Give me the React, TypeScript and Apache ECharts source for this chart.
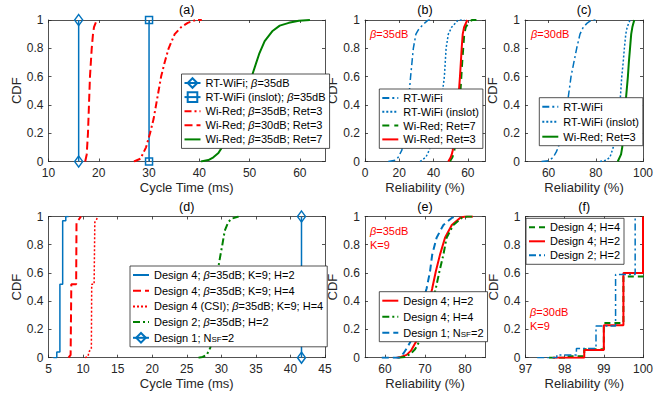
import React, { useEffect, useRef } from 'react';
import * as echarts from 'echarts';

const FONT = '"Liberation Sans", Arial, Helvetica, sans-serif';
const BLUE = '#0072BD';
const RED = '#FF0000';
const GREEN = '#008000';
const AX = '#262626';

// ---------- data ----------
// (a) cycle time CDFs
const aRtWifi = [[16, 0], [16, 1]];
const aRtWifiInslot = [[30, 0], [30, 1]];
const aWiRed35Ret3 = [[27, 0], [28.3, 0.02], [29.4, 0.1], [30.2, 0.2], [30.9, 0.3], [31.4, 0.4], [31.9, 0.5], [32.4, 0.6], [33.1, 0.7], [33.9, 0.8], [35.1, 0.9], [36.4, 0.95], [37.7, 0.98], [39.3, 1], [40.5, 1]];
const aWiRed30Ret3 = [[17.3, 0], [17.6, 0.05], [17.85, 0.2], [18.05, 0.4], [18.25, 0.6], [18.6, 0.8], [18.85, 0.9], [19.05, 0.95], [19.6, 1]];
const aWiRed35Ret7 = [[40.3, 0], [41.8, 0.01], [42.8, 0.03], [43.8, 0.06], [44.5, 0.1], [45.8, 0.2], [47, 0.3], [48.2, 0.4], [49.4, 0.5], [50.6, 0.62], [51.9, 0.76], [53, 0.85], [54.5, 0.92], [56, 0.96], [57.8, 0.98], [59.8, 0.995], [62, 1]];
// (b) reliability, beta = 35 dB
const bRtWifi = [[13.6, 0], [18, 0.01], [19.4, 0.03], [21.5, 0.08], [23, 0.2], [24.5, 0.35], [25.9, 0.5], [26.6, 0.6], [27.4, 0.7], [28.2, 0.8], [29.7, 0.9], [31.1, 0.93], [34, 0.97], [36.9, 1], [38, 1]];
const bRtWifiInslot = [[32.1, 0], [35.5, 0.03], [37.5, 0.08], [40, 0.2], [42, 0.32], [45.3, 0.5], [46.3, 0.6], [46.8, 0.7], [47.3, 0.8], [48.6, 0.9], [50.6, 0.95], [54.4, 1], [58, 1]];
const bWiRedRet7 = [[49.5, 0], [51, 0.03], [51.8, 0.06], [52.3, 0.09], [53.5, 0.2], [54.5, 0.33], [55.7, 0.5], [56.2, 0.6], [56.7, 0.7], [57.3, 0.8], [57.9, 0.9], [58.8, 0.95], [61, 0.99], [62.5, 1], [65, 1]];
const bWiRedRet3 = [[48.6, 0], [50, 0.03], [50.6, 0.05], [51.2, 0.08], [52.5, 0.2], [53.5, 0.33], [54.8, 0.5], [55.4, 0.6], [55.9, 0.7], [56.4, 0.8], [57, 0.9], [57.8, 0.95], [59.7, 1]];
// (c) reliability, beta = 30 dB
const cRtWifi = [[57, 0], [60, 0.005], [62, 0.03], [63.3, 0.07], [64.1, 0.1], [65.5, 0.2], [67, 0.33], [68.3, 0.45], [69.5, 0.6], [70.7, 0.7], [71.9, 0.8], [73.3, 0.9], [74.7, 0.95], [76.5, 0.98], [78.3, 1], [80, 1]];
const cRtWifiInslot = [[81.8, 0], [84.5, 0.01], [86, 0.03], [87.4, 0.1], [88.5, 0.2], [89.7, 0.33], [90.4, 0.45], [91, 0.6], [91.6, 0.7], [92.1, 0.8], [92.7, 0.9], [93.3, 0.95], [94.5, 1]];
const cWiRedRet3 = [[89.3, 0], [90.7, 0.05], [91.2, 0.1], [91.7, 0.2], [92.3, 0.33], [92.8, 0.45], [93.6, 0.6], [94, 0.7], [94.5, 0.8], [95, 0.9], [95.5, 0.95], [96.3, 1]];
// (d) cycle time CDFs of designs
const dD4H2 = [[5.7, 0], [6.2, 0], [6.2, 0.04], [6.65, 0.04], [6.65, 0.52], [7.05, 0.52], [7.05, 0.97], [7.5, 0.97], [7.5, 1], [7.9, 1]];
const dD4H4 = [[7.9, 0], [8.2, 0.02], [8.3, 0.52], [9.0, 0.52], [9.05, 0.96], [9.4, 0.98], [9.7, 1]];
const dD4CsiH4 = [[10.3, 0], [10.75, 0.01], [10.8, 0.04], [11.2, 0.06], [11.25, 0.52], [11.6, 0.52], [11.7, 0.96], [11.9, 0.97], [12.1, 1]];
const dD2H2 = [[26.7, 0], [27.3, 0.005], [27.9, 0.02], [28.4, 0.07], [28.7, 0.15], [29, 0.3], [29.3, 0.5], [29.6, 0.65], [29.85, 0.72], [30.15, 0.8], [30.5, 0.9], [31, 0.96], [31.5, 0.985], [32.5, 1]];
const dD1 = [[41.6, 0], [41.6, 1]];
// (e) reliability, beta = 35 dB, K = 9
const eD4H2 = [[62.9, 0], [64, 0.005], [65.4, 0.02], [66.5, 0.05], [67.5, 0.1], [68.5, 0.15], [70.5, 0.33], [71.8, 0.49], [72.7, 0.61], [73.75, 0.73], [75, 0.85], [76.7, 0.94], [78.75, 0.99], [80, 1], [82, 1]];
const eD4H4 = [[63.3, 0], [65, 0.005], [66.5, 0.03], [67.5, 0.06], [68.5, 0.11], [69.5, 0.17], [71.3, 0.33], [72.7, 0.49], [73.6, 0.61], [74.6, 0.73], [75.4, 0.85], [77.1, 0.94], [79.2, 0.99], [80.5, 1], [82, 1]];
const eD1 = [[59.2, 0], [63.5, 0], [64.6, 0.03], [65.5, 0.07], [66.5, 0.12], [68.5, 0.3], [70.4, 0.49], [71.25, 0.61], [71.8, 0.73], [72.9, 0.85], [74.6, 0.94], [76.7, 0.99], [77.5, 1]];
// (f) reliability, beta = 30 dB, K = 9
const fD4H4 = [[97.6, 0], [98, 0], [98, 0.01], [98.5, 0.01], [98.5, 0.06], [99, 0.06], [99, 0.245], [99.5, 0.245], [99.5, 0.575], [100, 0.575], [100, 1]];
const fD4H2 = [[97.7, 0], [98.5, 0], [98.5, 0.055], [99, 0.055], [99, 0.23], [99.5, 0.23], [99.5, 0.6], [100, 0.6], [100, 1]];
const fD2H2 = [[97.3, 0], [97.8, 0], [97.8, 0.02], [98.3, 0.02], [98.3, 0.065], [98.8, 0.065], [98.8, 0.225], [99.3, 0.225], [99.3, 0.59], [99.8, 0.59], [99.8, 1]];

// tick labels
const yTicks = [0, 0.2, 0.4, 0.6, 0.8, 1];
const aTicks = [10, 20, 30, 40, 50, 60];
const bTicks = [0, 20, 40, 60];
const cTicks = [60, 80, 100];
const dTicks = [5, 10, 15, 20, 25, 30, 35, 40, 45];
const eTicks = [60, 70, 80];
const fTicks = [97, 98, 99, 100];

// ---------- layout ----------
type SeriesSpec = { id: string; label: string; data: number[][]; color: string; width: number; dash: any; symbol?: string; symbolSize?: any };
type Panel = {
  title: string; grid: any; xMin: number; xMax: number; xTicks: number[];
  xName: string; legend: { left: number; top: number; gap: number }; series: SeriesSpec[];
};

const DASHDOT = [7, 3, 2, 3];
const panels: Panel[] = [
  {
    title: '(a)', grid: { left: 48.5, top: 20, width: 276.5, height: 141.5 }, xMin: 10, xMax: 65, xTicks: aTicks,
    xName: 'Cycle Time (ms)', legend: { left: 181.5, top: 74, gap: 2.1 },
    series: [
      { id: 'a1', label: 'RT-WiFi; {b|β}=35dB', data: aRtWifi, color: BLUE, width: 1.5, dash: 'solid', symbol: 'diamond', symbolSize: [8, 11] },
      { id: 'a2', label: 'RT-WiFi (inslot); {b|β}=35dB', data: aRtWifiInslot, color: BLUE, width: 1.5, dash: 'solid', symbol: 'rect', symbolSize: 7 },
      { id: 'a3', label: 'Wi-Red; {b|β}=35dB; Ret=3', data: aWiRed35Ret3, color: RED, width: 2, dash: DASHDOT },
      { id: 'a4', label: 'Wi-Red; {b|β}=30dB; Ret=3', data: aWiRed30Ret3, color: RED, width: 2, dash: [8, 4] },
      { id: 'a5', label: 'Wi-Red; {b|β}=35dB; Ret=7', data: aWiRed35Ret7, color: GREEN, width: 2, dash: 'solid' },
    ],
  },
  {
    title: '(b)', grid: { left: 365, top: 20, width: 120, height: 141.5 }, xMin: 0, xMax: 70, xTicks: bTicks,
    xName: 'Reliability (%)', legend: { left: 379.3, top: 89, gap: 1.8 },
    series: [
      { id: 'b1', label: 'RT-WiFi', data: bRtWifi, color: BLUE, width: 1.5, dash: DASHDOT },
      { id: 'b2', label: 'RT-WiFi (inslot)', data: bRtWifiInslot, color: BLUE, width: 1.5, dash: [2, 2] },
      { id: 'b3', label: 'Wi-Red; Ret=7', data: bWiRedRet7, color: GREEN, width: 2, dash: [7, 5] },
      { id: 'b4', label: 'Wi-Red; Ret=3', data: bWiRedRet3, color: RED, width: 2, dash: 'solid' },
    ],
  },
  {
    title: '(c)', grid: { left: 525, top: 20, width: 118, height: 141.5 }, xMin: 50, xMax: 100, xTicks: cTicks,
    xName: 'Reliability (%)', legend: { left: 539.3, top: 97.7, gap: 3 },
    series: [
      { id: 'c1', label: 'RT-WiFi', data: cRtWifi, color: BLUE, width: 1.5, dash: DASHDOT },
      { id: 'c2', label: 'RT-WiFi (inslot)', data: cRtWifiInslot, color: BLUE, width: 1.5, dash: [2, 2] },
      { id: 'c3', label: 'Wi-Red; Ret=3', data: cWiRedRet3, color: GREEN, width: 2, dash: 'solid' },
    ],
  },
  {
    title: '(d)', grid: { left: 48.5, top: 216.5, width: 276.5, height: 141.2 }, xMin: 5, xMax: 45, xTicks: dTicks,
    xName: 'Cycle Time (ms)', legend: { left: 130, top: 266, gap: 3.7 },
    series: [
      { id: 'd1', label: 'Design 4; {b|β}=35dB; K=9; H=2', data: dD4H2, color: BLUE, width: 1.5, dash: 'solid' },
      { id: 'd2', label: 'Design 4; {b|β}=35dB; K=9; H=4', data: dD4H4, color: RED, width: 2, dash: [8, 4] },
      { id: 'd3', label: 'Design 4 (CSI); {b|β}=35dB; K=9; H=4', data: dD4CsiH4, color: RED, width: 1.5, dash: [2, 2] },
      { id: 'd4', label: 'Design 2; {b|β}=35dB; H=2', data: dD2H2, color: GREEN, width: 2, dash: DASHDOT },
      { id: 'd5', label: 'Design 1; N{sub|SF}=2', data: dD1, color: BLUE, width: 1.5, dash: 'solid', symbol: 'diamond', symbolSize: [8, 11] },
    ],
  },
  {
    title: '(e)', grid: { left: 365, top: 216.5, width: 120, height: 141.2 }, xMin: 55, xMax: 85, xTicks: eTicks,
    xName: 'Reliability (%)', legend: { left: 379.3, top: 291.7, gap: 4 },
    series: [
      { id: 'e1', label: 'Design 4; H=2', data: eD4H2, color: RED, width: 2, dash: 'solid' },
      { id: 'e2', label: 'Design 4; H=4', data: eD4H4, color: GREEN, width: 2, dash: DASHDOT },
      { id: 'e3', label: 'Design 1; N{sub|SF}=2', data: eD1, color: BLUE, width: 2, dash: [7, 4] },
    ],
  },
  {
    title: '(f)', grid: { left: 525.5, top: 216.5, width: 117.5, height: 141.2 }, xMin: 97, xMax: 100, xTicks: fTicks,
    xName: 'Reliability (%)', legend: { left: 526, top: 218.3, gap: 2 },
    series: [
      { id: 'f1', label: 'Design 4; H=4', data: fD4H4, color: GREEN, width: 2, dash: [6, 4] },
      { id: 'f2', label: 'Design 4; H=2', data: fD4H2, color: RED, width: 2, dash: 'solid' },
      { id: 'f3', label: 'Design 2; H=2', data: fD2H2, color: BLUE, width: 1.5, dash: DASHDOT },
    ],
  },
];

const annotations = [
  { x: 370, y: 34, lines: ['{b|β}=35dB'] },
  { x: 531, y: 34, lines: ['{b|β}=30dB'] },
  { x: 370, y: 231, lines: ['{b|β}=35dB', 'K=9'] },
  { x: 530, y: 311.7, lines: ['{b|β}=30dB', 'K=9'] },
];

function buildOption() {
  const grid: any[] = [];
  const xAxis: any[] = [];
  const yAxis: any[] = [];
  const series: any[] = [];
  const legend: any[] = [];
  const graphic: any[] = [];
  const labelMap: Record<string, string> = {};

  const tickStyle = (vals: number[]) => ({ show: true, inside: true, length: 3, customValues: vals, lineStyle: { color: AX, width: 0.8 } });
  const lineStyle = () => ({ show: true, onZero: false, lineStyle: { color: AX, width: 0.8 } });

  panels.forEach((p, i) => {
    grid.push({ ...p.grid, containLabel: false });
    const xBase = (pos: string): any => ({
      type: 'value', gridIndex: i, position: pos, min: p.xMin, max: p.xMax,
      splitLine: { show: false }, axisLine: lineStyle(), axisTick: tickStyle(p.xTicks),
    });
    const xb = xBase('bottom');
    xb.axisLabel = { show: true, color: AX, fontSize: 12, fontFamily: FONT, margin: 5, customValues: p.xTicks };
    xb.name = p.xName;
    xb.nameLocation = 'middle';
    xb.nameGap = 19;
    xb.nameTextStyle = { color: AX, fontSize: 13, fontFamily: FONT };
    const xt = xBase('top');
    xt.axisLabel = { show: false };
    xAxis.push(xb, xt);

    const yBase = (pos: string): any => ({
      type: 'value', gridIndex: i, position: pos, min: 0, max: 1,
      splitLine: { show: false }, axisLine: lineStyle(), axisTick: tickStyle(yTicks),
    });
    const yl = yBase('left');
    yl.axisLabel = { show: true, color: AX, fontSize: 12, fontFamily: FONT, margin: 5, customValues: yTicks };
    yl.name = 'CDF';
    yl.nameLocation = 'middle';
    yl.nameGap = 22;
    yl.nameTextStyle = { color: AX, fontSize: 13, fontFamily: FONT };
    const yr = yBase('right');
    yr.axisLabel = { show: false };
    yAxis.push(yl, yr);

    p.series.forEach((s) => {
      labelMap[s.id] = s.label;
      const hasSym = !!s.symbol;
      series.push({
        type: 'line', name: s.id, xAxisIndex: 2 * i, yAxisIndex: 2 * i, data: s.data,
        symbol: hasSym ? s.symbol : 'none', symbolSize: s.symbolSize, showSymbol: hasSym,
        clip: !hasSym,
        lineStyle: { color: s.color, width: s.width, type: s.dash },
        itemStyle: hasSym
          ? { color: 'rgba(255,255,255,0)', borderColor: s.color, borderWidth: 1.5 }
          : { color: s.color },
        emphasis: { disabled: true },
        z: 2,
      });
    });

    legend.push({
      orient: 'vertical', left: p.legend.left, top: p.legend.top,
      data: p.series.map((s) => (s.symbol
        ? { name: s.id }
        : { name: s.id, itemStyle: { opacity: 0 } })),
      itemWidth: 16, itemHeight: 12, itemGap: p.legend.gap,
      padding: [3, 4, 3, 2], borderColor: AX, borderWidth: 0.8, backgroundColor: '#fff',
      selectedMode: false,
      textStyle: {
        color: '#000', fontSize: 11, fontFamily: FONT, lineHeight: 12,
        rich: {
          b: { fontStyle: 'italic', fontSize: 11, fontFamily: FONT, color: '#000', lineHeight: 12 },
          sub: { fontSize: 8, fontFamily: FONT, color: '#000', verticalAlign: 'bottom', lineHeight: 6 },
        },
      },
      formatter: (n: string) => labelMap[n] ?? n,
    });

    graphic.push({
      type: 'text', x: p.grid.left + p.grid.width / 2, y: p.grid.top - 10,
      style: { text: p.title, fontSize: 12.5, fontFamily: FONT, fill: '#000', align: 'center', verticalAlign: 'middle' },
    });
  });

  annotations.forEach((a) => {
    a.lines.forEach((t, k) => {
      graphic.push({
        type: 'text', x: a.x, y: a.y + k * 14,
        style: {
          text: t, fontSize: 11, fontFamily: FONT, fill: RED, align: 'left', verticalAlign: 'middle',
          rich: { b: { fontStyle: 'italic', fontSize: 11, fontFamily: FONT, fill: RED } },
        },
        z: 10,
      });
    });
  });

  return { animation: false, backgroundColor: '#fff', grid, xAxis, yAxis, series, legend, graphic };
}

export default function App() {
  const ref = useRef<HTMLDivElement>(null);
  useEffect(() => {
    document.body.style.margin = '0';
    const chart = echarts.init(ref.current!, null, { renderer: 'svg' });
    chart.setOption(buildOption() as any);
    return () => chart.dispose();
  }, []);
  return <div ref={ref} style={{ width: 672, height: 399 }} />;
}
